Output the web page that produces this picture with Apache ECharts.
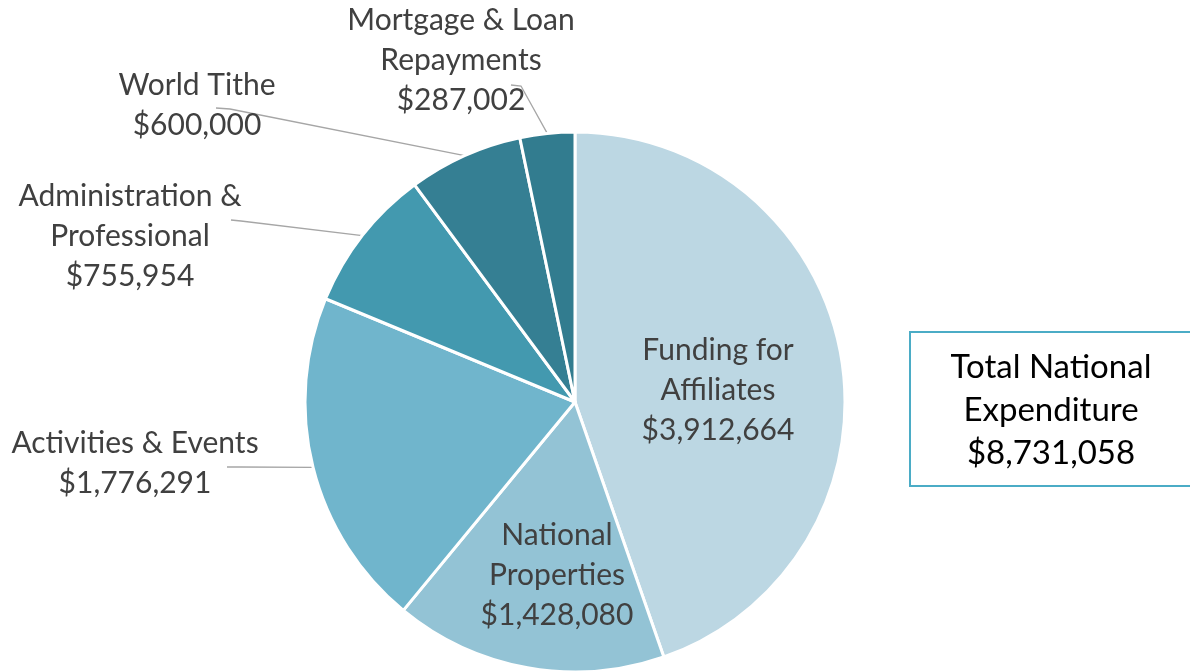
<!DOCTYPE html>
<html>
<head>
<meta charset="utf-8">
<script src="https://cdn.jsdelivr.net/npm/echarts@6/dist/echarts.min.js"></script>
<style>
  html, body { margin: 0; padding: 0; background: #fff; }
  #chart { width: 1190px; height: 671px; }
</style>
</head>
<body>
<div id="chart"></div>
<script>
// data
var categories = ["Funding for\nAffiliates", "National\nProperties", "Activities & Events",
                  "Administration &\nProfessional", "World Tithe", "Mortgage & Loan\nRepayments"];
var values = [3912664, 1428080, 1776291, 755954, 600000, 287002];
var totalText = "Total National\nExpenditure\n$8,731,058";

var colors = ["#BCD7E3", "#93C3D5", "#70B5CC", "#4399AF", "#357F93", "#327C8F"];

// where each label sits (centre of text block) and where its leader line bends / ends
var labelSpots = [
  { x: 718, y: 390 },
  { x: 557, y: 575 },
  { x: 135, y: 463, bend: [240, 467], end: [227, 467] },
  { x: 130, y: 236, bend: [241, 221], end: [231, 220] },
  { x: 197, y: 105, bend: [230, 109], end: [216, 108] },
  { x: 461, y: 60,  bend: [521, 86],  end: [511, 85] }
];

function money(v) {
  return "$" + v.toString().replace(/\B(?=(\d{3})+(?!\d))/g, ",");
}

var myChart = echarts.init(document.getElementById("chart"));

var pieData = categories.map(function (name, i) {
  var inside = !labelSpots[i].bend;
  return {
    name: name,
    value: values[i],
    itemStyle: { color: colors[i] },
    label: { position: inside ? "inside" : "outside" },
    labelLine: { show: !inside }
  };
});

var option = {
  animation: false,
  series: [
    {
      type: "pie",
      center: [575, 402],
      radius: 270,
      startAngle: 90,
      clockwise: true,
      avoidLabelOverlap: false,
      itemStyle: { borderColor: "#fff", borderWidth: 3 },
      label: {
        show: true,
        formatter: function (p) { return p.name + "\n" + money(p.value); },
        fontFamily: "Lato",
        fontSize: 30,
        lineHeight: 40,
        color: "#404040",
        align: "center"
      },
      labelLine: {
        lineStyle: { color: "#A6A6A6", width: 1.3 }
      },
      labelLayout: function (params) {
        var s = labelSpots[params.dataIndex];
        var out = { x: s.x, y: s.y, align: "center", verticalAlign: "middle" };
        if (s.bend && params.labelLinePoints) {
          out.labelLinePoints = [params.labelLinePoints[0], s.bend, s.end];
        }
        return out;
      },
      data: pieData
    }
  ],
  graphic: [
    {
      type: "rect",
      shape: { x: 910, y: 332, width: 292, height: 154 },
      style: { fill: "none", stroke: "#4BACC6", lineWidth: 2 }
    },
    {
      type: "text",
      x: 1051,
      y: 410,
      style: {
        text: totalText,
        fontFamily: "Lato",
        fontSize: 33,
        lineHeight: 43,
        fill: "#000",
        align: "center",
        verticalAlign: "middle"
      }
    }
  ]
};

myChart.setOption(option);
</script>
</body>
</html>
